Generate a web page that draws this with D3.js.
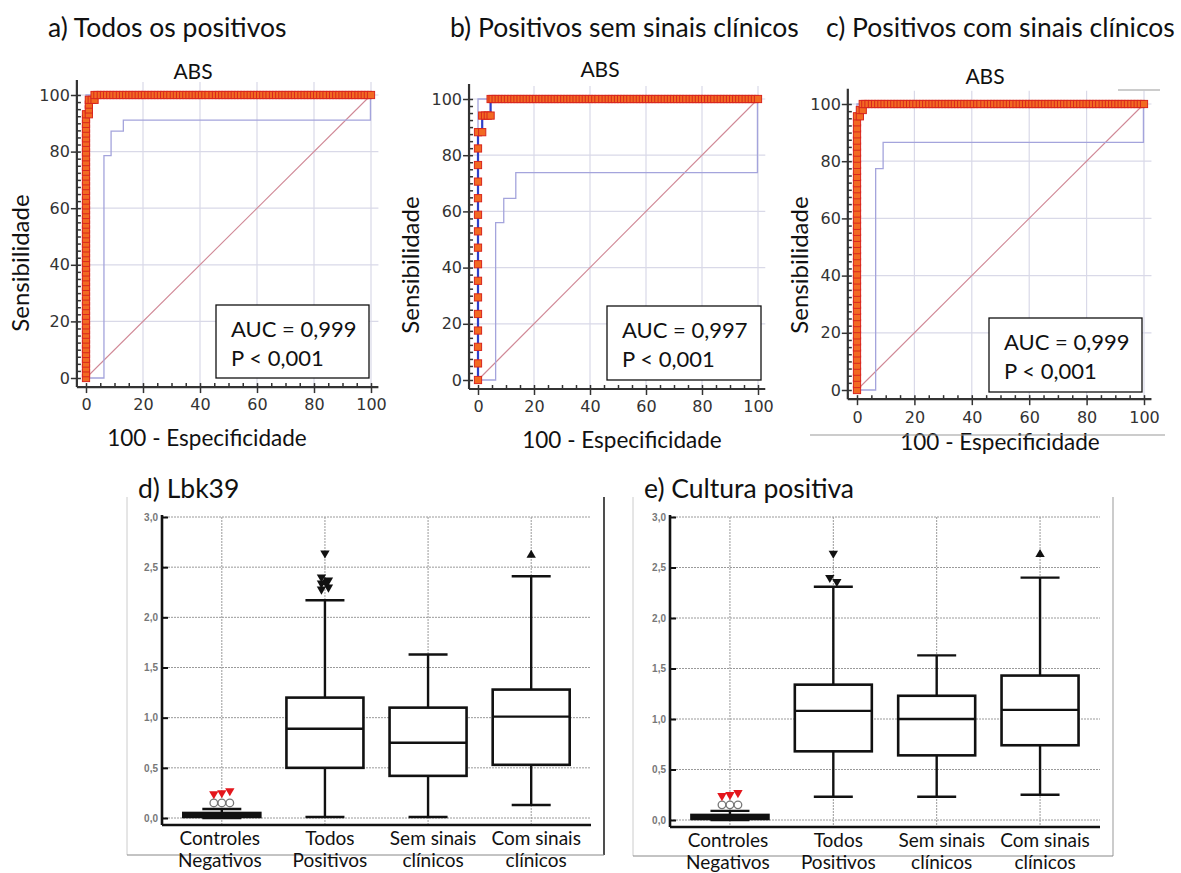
<!DOCTYPE html>
<html>
<head>
<meta charset="utf-8">
<script src="https://cdn.jsdelivr.net/npm/d3@7"></script>
<style>
  body { margin: 0; background: #fff; }
  .lbl { font-family: Lato, "Open Sans", sans-serif; fill: #111; }
  .num text { font-family: "DejaVu Sans", sans-serif; font-size: 16px; fill: #333; }
  .bnum text { font-family: "Liberation Sans", Arial, sans-serif; font-size: 10px; font-weight: bold; fill: #777; }
</style>
</head>
<body>
<svg id="chart" width="1181" height="873"></svg>
<script>
// ---------- ROC data ----------
const rocHeadings = ['a) Todos os positivos', 'b) Positivos sem sinais clínicos', 'c) Positivos com sinais clínicos'];
const rocAuc = ['AUC = 0,999', 'AUC = 0,997', 'AUC = 0,999'];
const rocP = ['P < 0,001', 'P < 0,001', 'P < 0,001'];
const rocTicks = [0, 20, 40, 60, 80, 100];

// sensitivity of the points at 100-specificity = 0
const sensAtZeroA = [0, 1.7, 3.4, 5.1, 6.8, 8.5, 10.2, 11.9, 13.6, 15.3, 16.9, 18.6, 20.3, 22.0, 23.7, 25.4, 27.1, 28.8,
  30.5, 32.2, 33.9, 35.6, 37.3, 39.0, 40.7, 42.4, 44.1, 45.8, 47.5, 49.2, 50.8, 52.5, 54.2, 55.9, 57.6, 59.3, 61.0, 62.7,
  64.4, 66.1, 67.8, 69.5, 71.2, 72.9, 74.6, 76.3, 78.0, 79.7, 81.4, 83.1, 84.7, 86.4, 88.1, 89.8, 91.5, 93.2];
const sensAtZeroB = [0, 5.9, 11.8, 17.6, 23.5, 29.4, 35.3, 41.2, 47.1, 52.9, 58.8, 64.7, 70.6, 76.5, 82.4, 88.2];
const sensAtZeroC = [0, 2.1, 4.3, 6.4, 8.5, 10.6, 12.8, 14.9, 17.0, 19.1, 21.3, 23.4, 25.5, 27.7, 29.8, 31.9, 34.0, 36.2,
  38.3, 40.4, 42.6, 44.7, 46.8, 48.9, 51.1, 53.2, 55.3, 57.4, 59.6, 61.7, 63.8, 66.0, 68.1, 70.2, 72.3, 74.5, 76.6, 78.7,
  80.9, 83.0, 85.1, 87.2, 89.4, 91.5, 93.6, 95.7];

// points between the vertical run and the top row
const cornerA = [[1, 93.2], [1, 94.9], [1, 96.6], [1, 98.3], [2, 98.3], [3, 98.3], [3, 100]];
const cornerB = [[1.5, 88.2], [1.5, 94.1], [2.5, 94.1], [3.5, 94.1], [4.5, 94.1], [4.5, 100]];
const cornerC = [[1, 95.7], [1, 97.9], [2, 97.9], [2, 100]];

// 100-specificity of the points at sensitivity = 100 (same negative controls)
const fprAtTop = [2.9, 4.0, 5.2, 6.3, 7.4, 8.5, 9.6, 10.7, 11.9, 13.0, 14.1, 15.2, 16.3, 17.4, 18.5, 19.6, 20.7, 21.9,
  23.0, 24.1, 25.2, 26.3, 27.4, 28.5, 29.6, 30.8, 31.9, 33.0, 34.1, 35.2, 36.3, 37.4, 38.5, 39.6, 40.7, 41.9, 43.0, 44.4,
  45.6, 46.7, 47.8, 48.9, 50.0, 51.1, 52.2, 53.3, 54.4, 55.6, 56.7, 57.8, 58.9, 60.0, 61.1, 62.2, 63.3, 64.4, 65.6, 66.7,
  67.8, 68.9, 70.0, 71.1, 72.2, 73.3, 74.4, 75.6, 76.7, 77.8, 78.9, 80.0, 81.1, 82.2, 83.3, 84.4, 85.6, 86.7, 87.8, 88.9,
  90.0, 91.1, 92.2, 93.3, 94.4, 95.6, 96.7, 97.8, 98.9, 100];

// lower 95% confidence bounds
const lowerA = [[0, 0], [6.3, 0], [6.3, 78.6], [8.8, 78.6], [8.8, 87.2], [13.1, 87.2], [13.1, 91.1], [99.8, 91.1], [99.8, 100]];
const lowerB = [[0, 0], [6.3, 0], [6.3, 56.0], [9.2, 56.0], [9.2, 64.6], [13.5, 64.6], [13.5, 73.8], [99.8, 73.8], [99.8, 100]];
const lowerC = [[0, 0], [6.5, 0], [6.5, 77.4], [9.1, 77.4], [9.1, 86.6], [99.8, 86.6], [99.8, 100]];
const upperAll = [[0, 0], [0, 100], [100, 100]];

// ---------- box plot data ----------
const boxHeadings = ['d) Lbk39', 'e) Cultura positiva'];
const groupLine1 = ['Controles', 'Todos', 'Sem sinais', 'Com sinais'];
const groupLine2 = ['Negativos', 'Positivos', 'clínicos', 'clínicos'];
const boxTicks = [0, 0.5, 1, 1.5, 2, 2.5, 3];

const lbkLow = [0.0, 0.01, 0.01, 0.13];
const lbkQ1 = [0.01, 0.50, 0.42, 0.53];
const lbkMed = [0.03, 0.89, 0.75, 1.01];
const lbkQ3 = [0.05, 1.20, 1.10, 1.28];
const lbkHigh = [0.09, 2.17, 1.63, 2.41];
const lbkCircles = [[0.15, 0.15, 0.15], [], [], []];
const lbkRed = [[0.24, 0.25, 0.27], [], [], []];
const lbkDown = [[], [2.64, 2.40, 2.37, 2.34, 2.30, 2.28], [], []];
const lbkUp = [[], [2.35], [], [2.62]];

const culLow = [0.0, 0.23, 0.23, 0.25];
const culQ1 = [0.01, 0.68, 0.64, 0.74];
const culMed = [0.03, 1.08, 1.00, 1.09];
const culQ3 = [0.05, 1.34, 1.23, 1.43];
const culHigh = [0.09, 2.31, 1.63, 2.40];
const culCircles = [[0.15, 0.15, 0.15], [], [], []];
const culRed = [[0.24, 0.25, 0.27], [], [], []];
const culDown = [[], [2.64, 2.40, 2.36], [], []];
const culUp = [[], [], [], [2.63]];

// ---------- drawing ----------
const svg = d3.select('#chart');

const rocPanels = [
  { ox: 86, oy: 378, sx: 2.85, sy: 2.83, head: [48, 37], title: [193, 79], ylab: [21, 263], xlab: [207, 446], box: [216, 305, 153, 73],
    zero: sensAtZeroA, corner: cornerA, lower: lowerA },
  { ox: 478, oy: 380, sx: 2.80, sy: 2.81, head: [450, 37], title: [600, 77], ylab: [411, 265], xlab: [622, 448], box: [607, 306, 154, 74],
    zero: sensAtZeroB, corner: cornerB, lower: lowerB },
  { ox: 857, oy: 390, sx: 2.87, sy: 2.86, head: [826, 37], title: [985, 84], ylab: [800, 265], xlab: [1000, 450], box: [989, 318, 153, 74],
    zero: sensAtZeroC, corner: cornerC, lower: lowerC }
];

rocPanels.forEach(function(p, i) {
  const x = d3.scaleLinear().domain([0, 100]).range([p.ox, p.ox + 100 * p.sx]);
  const y = d3.scaleLinear().domain([0, 100]).range([p.oy, p.oy - 100 * p.sy]);
  const g = svg.append('g');

  svg.append('text').attr('class', 'lbl').attr('x', p.head[0]).attr('y', p.head[1])
    .style('font-size', '26.5px').text(rocHeadings[i]);
  g.append('text').attr('class', 'lbl').attr('x', p.title[0]).attr('y', p.title[1])
    .attr('text-anchor', 'middle').style('font-size', '21px').text('ABS');
  g.append('text').attr('class', 'lbl').attr('transform', 'translate(' + p.ylab[0] + ',' + p.ylab[1] + ') rotate(-90)')
    .attr('text-anchor', 'middle').attr('dy', '0.35em').style('font-size', '24px').text('Sensibilidade');
  g.append('text').attr('class', 'lbl').attr('x', p.xlab[0]).attr('y', p.xlab[1])
    .attr('text-anchor', 'middle').style('font-size', '22.5px').text('100 - Especificidade');

  const x0 = x(-3.2), x1 = x(102.6), y0 = y(-3.2), y1 = y(104.6);

  // grid
  g.selectAll('.vg').data(rocTicks.slice(1)).enter().append('line')
    .attr('x1', d => x(d)).attr('x2', d => x(d)).attr('y1', y1).attr('y2', y0)
    .attr('stroke', '#d9d9e8').attr('stroke-width', 1.2);
  g.selectAll('.hg').data(rocTicks.slice(1)).enter().append('line')
    .attr('x1', x0).attr('x2', x1).attr('y1', d => y(d)).attr('y2', d => y(d))
    .attr('stroke', '#d9d9e8').attr('stroke-width', 1.2);

  // axes
  const minor = d3.range(0, 101, 5);
  g.append('g').attr('class', 'num').attr('transform', 'translate(0,' + y0 + ')')
    .call(d3.axisBottom(x).tickValues(rocTicks).tickSize(6).tickPadding(6));
  g.append('g').attr('transform', 'translate(0,' + y0 + ')')
    .call(d3.axisBottom(x).tickValues(minor).tickSize(-4).tickFormat(''));
  g.append('g').attr('class', 'num').attr('transform', 'translate(' + x0 + ',0)')
    .call(d3.axisLeft(y).tickValues(rocTicks).tickSize(6).tickPadding(1));
  g.append('g').attr('transform', 'translate(' + x0 + ',0)')
    .call(d3.axisLeft(y).tickValues(d3.range(0, 101, 2.5)).tickSize(-4).tickFormat(''));
  g.selectAll('.domain').remove();
  g.selectAll('.tick line').attr('stroke', '#333').attr('stroke-width', 1.5);
  g.append('line').attr('x1', x0).attr('x2', x1).attr('y1', y0).attr('y2', y0).attr('stroke', '#333').attr('stroke-width', 2.2);
  g.append('line').attr('x1', x0).attr('x2', x0).attr('y1', y1 - 2).attr('y2', y0).attr('stroke', '#333').attr('stroke-width', 2.2);

  const line = d3.line().x(d => x(d[0])).y(d => y(d[1]));

  // diagonal and confidence bounds
  g.append('path').attr('d', line([[0, 0], [100, 100]])).attr('fill', 'none').attr('stroke', '#d08896').attr('stroke-width', 1.1);
  g.append('path').attr('d', line(p.lower)).attr('fill', 'none').attr('stroke', '#a4a4dc').attr('stroke-width', 1.3);
  g.append('path').attr('d', line(upperAll)).attr('fill', 'none').attr('stroke', '#a4a4dc').attr('stroke-width', 1.3);

  // ROC curve
  const last = p.corner[p.corner.length - 1][0];
  const pts = p.zero.map(s => [0, s]).concat(p.corner).concat(fprAtTop.filter(f => f > last).map(f => [f, 100]));
  g.append('path').attr('d', line(pts)).attr('fill', 'none').attr('stroke', '#2f3fc8').attr('stroke-width', 2.2);
  g.selectAll('.pt').data(pts).enter().append('rect')
    .attr('x', d => x(d[0]) - 3.6).attr('y', d => y(d[1]) - 3.6)
    .attr('width', 7.2).attr('height', 7.2)
    .attr('fill', '#f26a22').attr('stroke', '#d8261e').attr('stroke-width', 1);

  // AUC box
  g.append('rect').attr('x', p.box[0]).attr('y', p.box[1]).attr('width', p.box[2]).attr('height', p.box[3])
    .attr('fill', '#fff').attr('stroke', '#111').attr('stroke-width', 1.3);
  g.append('text').attr('class', 'lbl').attr('x', p.box[0] + 15).attr('y', p.box[1] + 32)
    .style('font-size', '22px').text(rocAuc[i]);
  g.append('text').attr('class', 'lbl').attr('x', p.box[0] + 15).attr('y', p.box[1] + 61)
    .style('font-size', '22px').text(rocP[i]);
});

// panel c frame remnants
svg.append('line').attr('x1', 810).attr('x2', 1165).attr('y1', 435).attr('y2', 435).attr('stroke', '#999').attr('stroke-width', 1);
svg.append('line').attr('x1', 1118).attr('x2', 1160).attr('y1', 90).attr('y2', 90).attr('stroke', '#999').attr('stroke-width', 1);

// ---------- box plots ----------
const boxPanels = [
  { left: 162, right: 591, yZero: 818, yTop: 517, axisY: 825, head: [138, 498], frame: [127, 497, 604, 855], lab: [845, 867],
    low: lbkLow, q1: lbkQ1, med: lbkMed, q3: lbkQ3, high: lbkHigh, circ: lbkCircles, red: lbkRed, down: lbkDown, up: lbkUp },
  { left: 670, right: 1100, yZero: 820, yTop: 517, axisY: 827, head: [644, 498], frame: [633, 497, 1113, 856], lab: [847, 869],
    low: culLow, q1: culQ1, med: culMed, q3: culQ3, high: culHigh, circ: culCircles, red: culRed, down: culDown, up: culUp }
];

boxPanels.forEach(function(p, i) {
  const g = svg.append('g');
  const x = d3.scalePoint().domain(groupLine1).range([p.left, p.right]).padding(0.58);
  const y = d3.scaleLinear().domain([0, 3]).range([p.yZero, p.yTop]);

  // frame
  g.append('line').attr('x1', p.frame[0]).attr('x2', p.frame[0]).attr('y1', p.frame[1]).attr('y2', p.frame[3]).attr('stroke', '#ccc');
  g.append('line').attr('x1', p.frame[2]).attr('x2', p.frame[2]).attr('y1', p.frame[1]).attr('y2', p.frame[3])
    .attr('stroke', i === 0 ? '#222' : '#999').attr('stroke-width', i === 0 ? 1.6 : 1);
  g.append('line').attr('x1', p.frame[0]).attr('x2', p.frame[2]).attr('y1', p.frame[3]).attr('y2', p.frame[3]).attr('stroke', '#888');

  svg.append('text').attr('class', 'lbl').attr('x', p.head[0]).attr('y', p.head[1])
    .style('font-size', '26.5px').text(boxHeadings[i]);

  // grid
  g.selectAll('.hg').data(boxTicks).enter().append('line')
    .attr('x1', p.left).attr('x2', p.right).attr('y1', d => y(d)).attr('y2', d => y(d))
    .attr('stroke', '#9a9a9a').attr('stroke-width', 1).attr('stroke-dasharray', '2,1');
  g.selectAll('.vg').data(groupLine1).enter().append('line')
    .attr('x1', d => x(d)).attr('x2', d => x(d)).attr('y1', y(3)).attr('y2', p.axisY)
    .attr('stroke', '#9a9a9a').attr('stroke-width', 1).attr('stroke-dasharray', '2,1');

  // axes
  g.append('g').attr('class', 'bnum').attr('transform', 'translate(' + p.left + ',0)')
    .call(d3.axisLeft(y).tickValues(boxTicks).tickSize(-6).tickPadding(4)
      .tickFormat(d => d3.format('.1f')(d).replace('.', ',')))
    .call(a => a.select('.domain').remove())
    .call(a => a.selectAll('.tick line').attr('stroke', '#111').attr('stroke-width', 2));
  g.append('line').attr('x1', p.left).attr('x2', p.left).attr('y1', y(3) - 2).attr('y2', p.axisY).attr('stroke', '#111').attr('stroke-width', 2.6);
  g.append('line').attr('x1', p.left).attr('x2', p.right).attr('y1', p.axisY).attr('y2', p.axisY).attr('stroke', '#111').attr('stroke-width', 2.6);

  const bw = 77, cw = 39;
  groupLine1.forEach(function(c, k) {
    const cx = x(c);
    // whiskers
    g.append('line').attr('x1', cx).attr('x2', cx).attr('y1', y(p.high[k])).attr('y2', y(p.q3[k])).attr('stroke', '#111').attr('stroke-width', 2.4);
    g.append('line').attr('x1', cx).attr('x2', cx).attr('y1', y(p.q1[k])).attr('y2', y(p.low[k])).attr('stroke', '#111').attr('stroke-width', 2.4);
    [p.high[k], p.low[k]].forEach(function(v) {
      g.append('line').attr('x1', cx - cw / 2).attr('x2', cx + cw / 2).attr('y1', y(v)).attr('y2', y(v)).attr('stroke', '#111').attr('stroke-width', 2.4);
    });
    // box
    g.append('rect').attr('x', cx - bw / 2).attr('y', y(p.q3[k])).attr('width', bw).attr('height', y(p.q1[k]) - y(p.q3[k]))
      .attr('fill', k === 0 ? '#222' : '#fff').attr('stroke', '#111').attr('stroke-width', 2.6);
    g.append('line').attr('x1', cx - bw / 2).attr('x2', cx + bw / 2).attr('y1', y(p.med[k])).attr('y2', y(p.med[k]))
      .attr('stroke', '#111').attr('stroke-width', 2.4);

    // outliers
    const spread = (n, j, w) => (j - (n - 1) / 2) * w;
    p.circ[k].forEach(function(v, j) {
      g.append('circle').attr('cx', cx + spread(p.circ[k].length, j, 8)).attr('cy', y(v)).attr('r', 3.8)
        .attr('fill', '#fff').attr('stroke', '#777').attr('stroke-width', 1.3);
    });
    const tri = d3.symbol().type(d3.symbolTriangle).size(38);
    p.red[k].forEach(function(v, j) {
      g.append('path').attr('d', tri()).attr('fill', '#e4161c')
        .attr('transform', 'translate(' + (cx + spread(p.red[k].length, j, 8)) + ',' + y(v) + ') rotate(180)');
    });
    p.down[k].forEach(function(v, j) {
      const dx = j === 0 ? 0 : (j % 2 ? -3.5 : 3.5);
      g.append('path').attr('d', tri()).attr('fill', '#111')
        .attr('transform', 'translate(' + (cx + dx) + ',' + y(v) + ') rotate(180)');
    });
    p.up[k].forEach(function(v) {
      g.append('path').attr('d', tri()).attr('fill', '#111')
        .attr('transform', 'translate(' + cx + ',' + y(v) + ')');
    });

    // category labels
    const lx = cx + (k === 0 ? -2 : 5);
    g.append('text').attr('class', 'lbl').attr('x', lx).attr('y', p.lab[0]).attr('text-anchor', 'middle')
      .style('font-size', '19px').text(c);
    g.append('text').attr('class', 'lbl').attr('x', lx).attr('y', p.lab[1]).attr('text-anchor', 'middle')
      .style('font-size', '19px').text(groupLine2[k]);
  });
});
</script>
</body>
</html>
